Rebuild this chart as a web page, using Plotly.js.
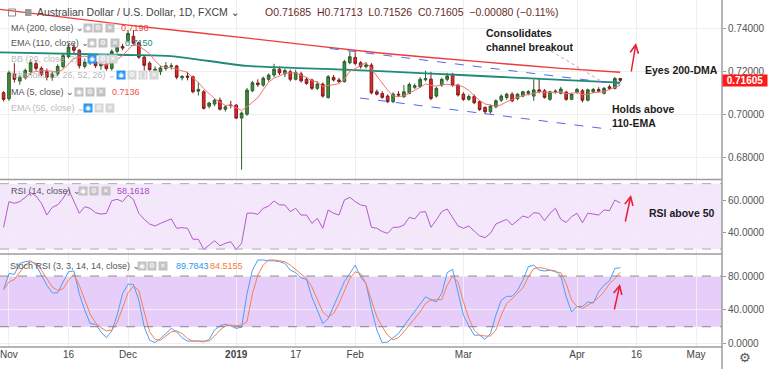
<!DOCTYPE html>
<html><head><meta charset="utf-8">
<script src="https://cdn.plot.ly/plotly-3.0.1.min.js"></script>
<style>html,body{margin:0;padding:0;background:#fff}#chart{width:768px;height:369px}</style>
</head><body><div id="chart"></div>
<script>
// ---- data (bar index 0 = 31 Oct 2018, trading days only) ----
const openP=[0.7103,0.7075,0.7190,0.7157,0.7173,0.7200,0.7238,0.7216,0.7200,0.7175,
0.7190,0.7224,0.7270,0.7315,0.7300,0.7225,0.7248,0.7245,0.7228,0.7235,
0.7215,0.7295,0.7318,0.7345,0.7365,0.7335,0.7268,0.7240,0.7205,0.7200,
0.7215,0.7225,0.7227,0.7172,0.7180,0.7177,0.7110,0.7107,0.7040,0.7050,
0.7068,0.7026,0.7045,0.7045,0.6985,0.7003,0.7112,0.7148,0.7138,0.7165,
0.7185,0.7212,0.7190,0.7200,0.7165,0.7190,0.7165,0.7162,0.7123,0.7143,
0.7081,0.7174,0.7162,0.7154,0.7242,0.7267,0.7242,0.7224,0.7231,0.7107,
0.7099,0.7087,0.7061,0.7096,0.7084,0.7099,0.7128,0.7131,0.7163,0.7166,
0.7087,0.7138,0.7165,0.7188,0.7138,0.7096,0.7072,0.7085,0.7061,0.7034,
0.7014,0.7037,0.7068,0.7080,0.7096,0.7075,0.7087,0.7100,0.7087,0.7116,
0.7112,0.7072,0.7107,0.7100,0.7105,0.7072,0.7105,0.7112,0.7068,0.7107,
0.7118,0.7100,0.7130,0.7123,0.71685];
const highP=[0.7110,0.7205,0.7240,0.7185,0.7215,0.7258,0.7255,0.7225,0.7215,0.7200,
0.7235,0.7285,0.7330,0.7330,0.7305,0.7262,0.7260,0.7250,0.7248,0.7240,
0.7305,0.7325,0.7330,0.7394,0.7394,0.7340,0.7275,0.7248,0.7225,0.7228,
0.7245,0.7240,0.7232,0.7185,0.7200,0.7182,0.7150,0.7115,0.7060,0.7075,
0.7080,0.7045,0.7065,0.7050,0.7015,0.7125,0.7158,0.7165,0.7178,0.7192,
0.7237,0.7225,0.7215,0.7210,0.7210,0.7200,0.7175,0.7168,0.7155,0.7150,
0.7185,0.7185,0.7172,0.7255,0.7295,0.7290,0.7250,0.7245,0.7240,0.7118,
0.7110,0.7095,0.7105,0.7110,0.7138,0.7150,0.7145,0.7175,0.7205,0.7200,
0.7130,0.7172,0.7195,0.7195,0.7145,0.7105,0.7095,0.7095,0.7068,0.7040,
0.7048,0.7072,0.7095,0.7102,0.7105,0.7100,0.7112,0.7115,0.7165,0.7168,
0.7120,0.7112,0.7118,0.7130,0.7112,0.7100,0.7125,0.7120,0.7122,0.7125,
0.7128,0.7130,0.7140,0.7175,0.71713];
const lowP=[0.7062,0.7065,0.7150,0.7140,0.7165,0.7185,0.7205,0.7180,0.7160,0.7158,
0.7180,0.7215,0.7262,0.7285,0.7215,0.7215,0.7232,0.7218,0.7210,0.7205,
0.7205,0.7285,0.7300,0.7335,0.7322,0.7260,0.7205,0.7200,0.7180,0.7185,
0.7205,0.7210,0.7165,0.7160,0.7160,0.7100,0.7090,0.7025,0.7030,0.7040,
0.7020,0.7015,0.7030,0.6980,0.6745,0.6995,0.7105,0.7130,0.7130,0.7155,
0.7175,0.7185,0.7175,0.7155,0.7160,0.7150,0.7140,0.7115,0.7115,0.7080,
0.7075,0.7155,0.7148,0.7150,0.7235,0.7230,0.7215,0.7215,0.7095,0.7090,
0.7075,0.7055,0.7055,0.7082,0.7078,0.7095,0.7120,0.7125,0.7155,0.7068,
0.7080,0.7130,0.7155,0.7130,0.7085,0.7065,0.7065,0.7050,0.7018,0.7003,
0.7005,0.7030,0.7060,0.7070,0.7058,0.7068,0.7082,0.7090,0.7065,0.7100,
0.7075,0.7065,0.7098,0.7095,0.7065,0.7068,0.7098,0.7058,0.7062,0.7100,
0.7105,0.7095,0.7115,0.7118,0.71526];
const closeP=[0.7072,0.7195,0.7165,0.7175,0.7206,0.7242,0.7216,0.7188,0.7175,0.7190,
0.7225,0.7275,0.7315,0.7300,0.7228,0.7245,0.7242,0.7228,0.7235,0.7215,
0.7295,0.7315,0.7310,0.7378,0.7333,0.7268,0.7230,0.7210,0.7212,0.7218,
0.7228,0.7228,0.7175,0.7178,0.7175,0.7107,0.7118,0.7030,0.7055,0.7068,
0.7026,0.7037,0.7044,0.6985,0.7008,0.7115,0.7149,0.7140,0.7170,0.7185,
0.7212,0.7195,0.7206,0.7165,0.7196,0.7158,0.7146,0.7123,0.7143,0.7087,
0.7177,0.7162,0.7155,0.7247,0.7270,0.7239,0.7224,0.7232,0.7102,0.7096,
0.7081,0.7061,0.7096,0.7092,0.7107,0.7141,0.7135,0.7165,0.7168,0.7076,
0.7123,0.7165,0.7180,0.7138,0.7092,0.7072,0.7085,0.7056,0.7025,0.7014,
0.7041,0.7065,0.7087,0.7096,0.7065,0.7096,0.7107,0.7108,0.7116,0.7108,
0.7081,0.7107,0.7110,0.7120,0.7072,0.7096,0.7118,0.7068,0.7116,0.7118,
0.7110,0.7123,0.7123,0.7169,0.71605];
const rsi=[43.3,59,58,59,61.6,64.5,62.4,58,50.8,55.5,
57,61,66.5,59,51.9,55.9,54.9,52.2,51.4,51.8,
59.6,60.4,59,63,60.4,51.8,48.2,45.3,44.1,45.7,
47.3,48.4,42.7,43.1,42.7,36,36,29.8,32.4,35.1,
32,33.5,34.5,29.8,33.5,51.9,52,51.2,54.9,56.3,
59.4,57,57,52.9,54.9,50.8,50.8,45.7,48.8,42.7,
53.9,51.9,50.8,60,61.6,59,57,56.3,43.3,42.7,
40.7,39.6,43.3,43.3,44.7,49.4,48.4,52.5,52.9,43.3,
47.8,52.9,54.5,49.4,44.1,42.7,44.1,41,38,37,
39.6,45.3,46.7,48.2,44.7,47.3,50.2,49.2,52.2,51.9,
47.3,51.9,54.9,48.2,46.3,49.8,51.9,46.1,51.9,51.4,
50.8,53.9,53.5,60,58.16];
const stochK=[64,83,82,95,97,98,93,81,69,60,
60,73,85,86,59,39.6,23.8,23,13.8,7,
15,33.7,59.4,70.5,70,51.5,19.8,4,1.3,6,
12,18,14,7,3,3,3,2,5,16,
21,23,21,18,19.5,59,87,99,99,98,
98,97,95,87,84,78,76,55,39.6,23.8,
29.7,43.6,59.4,73.3,83,93,79,71,41.6,16,
1,2,7,12,21,29.7,37.6,46.7,55.4,52,
49.4,59.4,84,88,61.4,33.7,21,10,10,5,
12,33.7,51.5,56,56,63,75,91,93,87,
86,87,86,80,55.4,37.6,44,44,49.4,48,
61.4,69.3,74.4,89,89.78];
const stochD=[64,73,76,85,93,97,95,87,77,67,
63,65,75,82,69,51,35,24.7,19,15,
16,25,43.6,60,68,63,37.6,14,5,4,
9,14,15,12,6,3,3,3,3,9,
16,21,22,21,22,26,59,81,93,99,
99,98,97,93,88,83,77,67,53,37.6,
31.7,35.6,47.5,63,77,85,83,71,51,31.7,
19.8,10,4.5,7,14,22,31,37.6,47.5,51.5,
52,52,69,80,73,49.7,30,16,10,9,
9,16,33.7,47.5,53,59,66,79,89,90,
89,87,85,84,71,51.5,44,41.6,45.5,49.4,
54.5,61.4,71,77,84.5];
// sampled moving averages (bar index, value)
const ma200Idx=[-0.7,23,45.5,70,88,103,114];
const ma200Val=[0.7490,0.7417,0.7355,0.7286,0.7247,0.7216,0.7198];
const ema110Idx=[-0.7,23,31,45,56,65,78,91,104,114];
const ema110Val=[0.7290,0.7278,0.7273,0.7227,0.7216,0.7208,0.7193,0.7177,0.7161,0.7150];
// channel trendlines
const chanUpIdx=[60.3,114], chanUpVal=[0.7308,0.7143];
const chanLoIdx=[65.9,112.3], chanLoVal=[0.7078,0.6932];
// axis ticks
const xTickIdx=[1,12,23,43,54,65,85,106,117,128];
const xTickText=['Nov','16','Dec','<b>2019</b>','17','Feb','Mar','Apr','16','May'];
const priceTicks=[0.68,0.70,0.72,0.74];
const rsiTicks=[40,60];
const stochTicks=[0,40,80];

// ---- build ----
const idx=closeP.map((_,i)=>i);
const ma5=closeP.map((_,i)=> i<4?null: closeP.slice(i-4,i+1).reduce((a,b)=>a+b,0)/5);
const lastClose=closeP[closeP.length-1];

const W=722,H=347;
const PX=x=>x/W, PY=y=>1-y/H;
const FONT='Liberation Sans, Arial, DejaVu Sans, sans-serif';

const traces=[
 {type:'scatter',mode:'lines',x:ma200Idx,y:ma200Val,line:{color:'#f03a3a',width:1.4,shape:'spline',smoothing:0.6},hoverinfo:'skip'},
 {type:'scatter',mode:'lines',x:ema110Idx,y:ema110Val,line:{color:'#1f8a78',width:1.8,shape:'spline',smoothing:0.6},hoverinfo:'skip'},
 {type:'scatter',mode:'lines',x:chanUpIdx,y:chanUpVal,line:{color:'#5468f0',width:1,dash:'dash'},hoverinfo:'skip'},
 {type:'scatter',mode:'lines',x:chanLoIdx,y:chanLoVal,line:{color:'#5468f0',width:1,dash:'dash'},hoverinfo:'skip'},
 {type:'scatter',mode:'lines',x:idx,y:ma5,line:{color:'#f07272',width:1},hoverinfo:'skip'},
 {type:'candlestick',x:idx,open:openP,high:highP,low:lowP,close:closeP,
  increasing:{line:{color:'#2d5e2d',width:1},fillcolor:'#3e8e3a'},
  decreasing:{line:{color:'#7a1f1f',width:1},fillcolor:'#ee2222'},
  whiskerwidth:0,hoverinfo:'skip'},
 {type:'scatter',mode:'lines',x:idx,y:rsi,yaxis:'y2',line:{color:'#b25cc8',width:1},hoverinfo:'skip'},
 {type:'scatter',mode:'lines',x:idx,y:stochK,yaxis:'y3',line:{color:'#4a9ff5',width:1},hoverinfo:'skip'},
 {type:'scatter',mode:'lines',x:idx,y:stochD,yaxis:'y3',line:{color:'#f58050',width:1},hoverinfo:'skip'}
];

const tickFont={size:10,color:'#555',family:FONT};
const yCommon={side:'right',showgrid:true,gridcolor:'#efefef',zeroline:false,ticks:'outside',ticklen:3,tickcolor:'#9a9a9a',tickfont:tickFont,showline:false,fixedrange:true};

const shapes=[
 {type:'rect',xref:'paper',yref:'y2',x0:0,x1:1,y0:30,y1:70,fillcolor:'#f4e7fc',line:{width:0},layer:'below'},
 {type:'line',xref:'paper',yref:'y2',x0:0,x1:1,y0:70,y1:70,line:{color:'#b0a8b8',width:1,dash:'dash'}},
 {type:'line',xref:'paper',yref:'y2',x0:0,x1:1,y0:30,y1:30,line:{color:'#b0a8b8',width:1,dash:'dash'}},
 {type:'rect',xref:'paper',yref:'y3',x0:0,x1:1,y0:20,y1:80,fillcolor:'#e7cefa',line:{width:0},layer:'below'},
 {type:'line',xref:'paper',yref:'y3',x0:0,x1:1,y0:80,y1:80,line:{color:'#8a8090',width:1,dash:'dash'}},
 {type:'line',xref:'paper',yref:'y3',x0:0,x1:1,y0:20,y1:20,line:{color:'#8a8090',width:1,dash:'dash'}},
 // pane separators & axes lines
 {type:'line',xref:'paper',yref:'paper',x0:0,x1:1,y0:PY(179.5),y1:PY(179.5),line:{color:'#9c9c9c',width:1.5}},
 {type:'line',xref:'paper',yref:'paper',x0:0,x1:1,y0:PY(254),y1:PY(254),line:{color:'#9c9c9c',width:1.5}},
 {type:'line',xref:'paper',yref:'paper',x0:0,x1:1,y0:0,y1:0,line:{color:'#9c9c9c',width:1.5}},
 {type:'line',xref:'paper',yref:'paper',x0:1,x1:1,y0:PY(369),y1:1,line:{color:'#9c9c9c',width:1.5}},
 // pointer from the note to the breakout
 {type:'line',xref:'paper',yref:'paper',x0:PX(551),y0:PY(51),x1:PX(600),y1:PY(80.5),line:{color:'#d99ab0',width:1,dash:'dot'}},
 // header icons
 {type:'rect',xref:'paper',yref:'paper',x0:PX(8.5),x1:PX(15.5),y0:PY(16),y1:PY(9),line:{color:'#8a8a8a',width:1},fillcolor:'rgba(0,0,0,0)'},
 {type:'rect',xref:'paper',yref:'paper',x0:PX(25),x1:PX(31.5),y0:PY(16),y1:PY(9),line:{width:0},fillcolor:'#9a9a9a'}
];

const ann=[];
function txt(t,x,y,o){o=o||{};ann.push({xref:'paper',yref:'paper',x:PX(x),y:PY(y),xanchor:o.xa||'left',yanchor:'middle',align:'left',text:t,showarrow:false,
  font:{size:o.size||9,color:o.color||'#555',family:o.family||FONT}});}
function icon(x,y,bg,g){ann.push({xref:'paper',yref:'paper',x:PX(x),y:PY(y),xanchor:'left',yanchor:'middle',text:g,showarrow:false,
  font:{size:7,color:'#fff',family:'DejaVu Sans, sans-serif'},bgcolor:bg,width:8,height:8,borderpad:0});}
const G='#c2c2c2', GL='#d6d6d6', B='#2a96f0';
function row(y,label,lc,xs,bgs,glyphs,val,vx,vc){
  txt(label,9,y,{color:lc});
  xs.forEach((x,k)=>icon(x,y,bgs[k],glyphs[k]));
  if(val) txt(val,vx,y,{color:vc});
}
// header
txt('Australian Dollar / U.S. Dollar, 1D, FXCM ⌄',35,12,{size:10.5,color:'#444'});
txt('O0.71685  H0.71713  L0.71526  C0.71605  −0.00080 (−0.11%)',263,12,{size:10.5,color:'#6a2a2a'});
// indicator legends
row(28,'MA (200, close) ⌄','#555',[83,93,105],[G,G,G],['◉','⚙','✕'],'0.7198',119,'#f03a3a');
row(43,'EMA (110, close) ⌄','#555',[87,98,110],[G,G,G],['◉','⚙','✕'],'0.7150',123,'#1f8a78');
row(59,'BB (20, close, 2) ⌄','#bbb',[87,98,108],[B,GL,GL],['◉','⚙','✕'],null);
row(75.5,'Ichimoku (9, 26, 52, 26) ⌄','#bbb',[116,127,138,149],[B,GL,GL,GL],['◉','⚙','{}','✕'],null);
row(91.5,'MA (5, close) ⌄','#555',[74,85,96],[G,G,G],['◉','⚙','✕'],'0.7136',110,'#f05050');
row(107.7,'EMA (55, close) ⌄','#bbb',[83,94,105],[B,GL,GL],['◉','⚙','✕'],null);
row(190.7,'RSI (14, close) ⌄','#555',[78,89,101],[G,G,G],['◉','⚙','✕'],'58.1618',115,'#ab47bc');
txt('Stoch RSI (3, 3, 14, 14, close) ⌄',8,265.7,{color:'#555'});
[137,147,158].forEach((x,k)=>icon(x,265.7,G,['◉','⚙','✕'][k]));
txt('89.7843',174,265.7,{color:'#2a96f0'});
txt('84.5155',208,265.7,{color:'#f57a3a'});
// notes
const NB={size:10.5,color:'#1c1c1c'};
txt('<b>Consolidates<br>channel breakout</b>',484,39.5,NB);
txt('<b>Eyes 200-DMA</b>',643,70,NB);
txt('<b>Holds above<br>110-EMA</b>',610,116,NB);
txt('<b>RSI above 50</b>',647,212.5,NB);
// arrows
function arrow(hx,hy,tx,ty){ann.push({xref:'paper',yref:'paper',x:PX(hx),y:PY(hy),ax:tx-hx,ay:ty-hy,text:'',showarrow:true,
  arrowhead:5,arrowsize:1.1,arrowwidth:1.5,arrowcolor:'#ef1c38'});}
arrow(636,43,631,73);
arrow(631,195,625,223);
arrow(620,284,614,311);
// last price tag
ann.push({xref:'paper',yref:'y',x:PX(745),y:lastClose,xanchor:'center',yanchor:'middle',text:'<b>'+lastClose.toFixed(5)+'</b>',showarrow:false,
  font:{size:10,color:'#fff',family:FONT},bgcolor:'#ff1a1a',width:44,height:11,borderpad:0});
// settings gear
txt('⚙',745,357,{size:13,color:'#555',xa:'center',family:'DejaVu Sans, sans-serif'});

const layout={
  width:768,height:369,margin:{l:0,r:46,t:0,b:22},paper_bgcolor:'#fff',plot_bgcolor:'#fff',showlegend:false,
  hovermode:false,
  xaxis:{range:[-0.66,132.8],tickvals:xTickIdx,ticktext:xTickText,showgrid:true,gridcolor:'#efefef',zeroline:false,
    anchor:'y3',ticks:'',tickfont:{size:10,color:'#444',family:FONT},rangeslider:{visible:false},showline:false,fixedrange:true},
  yaxis:Object.assign({},yCommon,{domain:[PY(179.5),1],range:[0.66995,0.75335],tickvals:priceTicks,tickformat:'.5f'}),
  yaxis2:Object.assign({},yCommon,{domain:[PY(254),PY(180.3)],range:[26.97,72.05],tickvals:rsiTicks,tickformat:'.4f'}),
  yaxis3:Object.assign({},yCommon,{domain:[0,PY(254)],range:[-4,106.1],tickvals:stochTicks,tickformat:'.4f'}),
  shapes:shapes,annotations:ann
};
Plotly.newPlot('chart',traces,layout,{staticPlot:true,displayModeBar:false});
</script></body></html>
